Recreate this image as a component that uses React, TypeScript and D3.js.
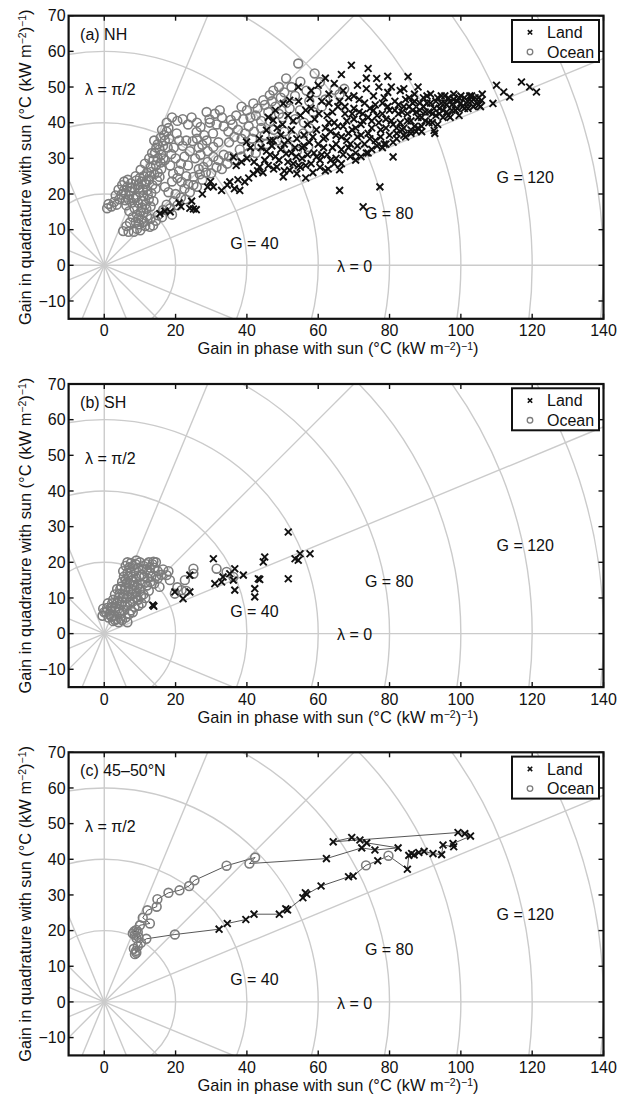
import React from "react";
import * as d3 from "d3";

type Pt = [number, number];

// ---- panel (a) NH ----
const OCEAN_A: Pt[] = [
  [0.8, 16.0], [1.2, 17.2], [2.0, 16.5], [2.8, 17.8], [3.5, 17.0], [4.2, 18.5], [4.8, 19.8], [5.5, 21.0],
  [5.0, 22.5], [6.0, 20.0], [6.5, 22.0], [6.8, 18.5], [7.2, 20.8], [7.5, 23.0], [4.0, 21.2], [3.2, 19.6],
  [5.3, 9.6], [6.8, 9.4], [8.3, 9.4], [9.2, 10.2], [10.1, 9.8], [9.8, 11.5], [8.8, 12.2], [8.0, 13.5],
  [10.5, 12.8], [11.5, 11.0], [12.8, 10.8], [13.7, 11.2], [14.5, 12.5], [12.0, 13.8], [11.0, 14.8],
  [8.5, 16.0], [9.5, 17.5], [10.5, 16.2], [11.5, 17.0], [9.0, 19.0], [10.0, 20.5], [11.0, 19.5], [12.0, 21.0],
  [12.5, 18.5], [13.0, 16.5], [8.5, 21.5], [9.5, 22.5], [10.5, 23.5], [11.5, 22.8], [12.5, 24.0], [13.5, 22.5],
  [14.0, 25.5], [12.0, 26.0], [13.0, 27.5], [14.5, 28.0], [15.0, 30.0], [13.8, 29.5], [16.0, 31.0], [15.5, 32.5],
  [16.5, 33.5], [17.0, 35.0], [16.8, 36.5], [17.5, 37.5], [15.0, 34.0], [14.2, 31.5], [12.8, 25.0], [11.0, 25.0],
  [10.0, 24.5], [16.0, 27.0], [15.0, 26.0], [17.0, 29.5],
  [6.2, 16.8], [7.0, 15.2], [7.8, 17.6], [8.2, 18.8], [9.2, 14.2], [10.2, 15.0], [10.8, 18.0], [11.8, 15.8],
  [12.2, 19.8], [13.2, 20.2], [13.8, 18.0], [14.4, 21.5], [14.8, 23.8], [15.5, 24.8], [15.8, 28.8], [16.6, 30.0],
  [14.6, 33.0], [15.8, 35.8], [16.2, 38.0], [17.8, 33.0], [18.2, 35.5], [13.2, 26.2], [11.8, 23.6], [10.8, 21.2],
  [9.8, 21.8], [9.0, 23.8], [7.8, 21.8], [7.0, 19.6], [6.0, 18.2], [5.6, 23.5], [6.6, 24.0], [8.8, 25.0],
  [10.2, 26.8], [11.4, 28.5], [12.6, 30.0], [13.4, 31.5], [14.0, 35.0], [9.6, 13.2], [7.2, 12.0], [6.2, 11.0],
  [11.2, 12.2], [13.0, 13.0], [16.2, 13.5], [19.0, 14.2], [20.5, 16.8], [22.8, 18.5],
  [15.0, 14.0], [16.5, 15.5], [17.5, 17.0], [18.5, 16.0], [19.5, 18.0], [20.0, 20.0], [21.5, 19.0], [22.5, 21.5],
  [24.0, 20.5], [25.0, 22.5], [26.0, 22.0], [27.5, 24.0], [18.0, 20.5], [17.0, 22.0], [19.0, 23.5], [20.5, 24.5],
  [21.7, 23.4], [23.0, 25.0], [25.0, 24.8], [26.5, 27.0], [27.8, 27.6], [29.0, 29.0], [30.6, 30.4], [32.0, 29.5],
  [33.5, 31.0], [35.0, 30.5], [31.5, 27.5], [23.5, 22.8], [26.8, 25.5], [28.5, 26.0], [30.0, 25.8], [33.0, 27.0],
  [34.5, 28.5], [21.0, 26.5], [22.5, 30.5],
  [18.0, 38.5], [17.5, 40.0], [19.0, 41.5], [20.5, 40.5], [22.0, 41.0], [23.5, 39.5], [24.5, 41.5], [26.0, 40.0],
  [27.0, 38.8], [28.7, 43.0], [29.5, 41.0], [31.0, 42.5], [32.4, 43.5], [33.5, 39.0], [29.6, 40.0], [30.5, 37.0],
  [28.0, 36.5], [25.9, 37.4], [23.0, 35.0], [20.3, 37.0], [22.0, 33.5], [24.0, 32.0], [26.5, 33.0], [28.7, 35.0],
  [30.6, 33.2], [32.0, 34.5], [19.3, 25.7], [18.5, 28.0], [20.0, 30.0], [21.5, 28.5], [23.5, 28.0], [25.5, 30.0],
  [27.0, 31.0], [29.0, 32.0], [24.8, 34.8], [26.0, 35.5], [27.5, 33.8], [19.5, 33.0], [21.0, 35.0], [18.8, 31.2],
  [31.5, 39.5], [33.0, 41.5], [34.8, 37.5], [35.5, 40.8], [37.0, 42.0],
  [35.0, 34.5], [36.5, 36.0], [37.5, 38.0], [38.5, 35.5], [36.0, 39.5], [40.0, 43.5], [41.8, 45.4], [44.6, 46.3],
  [46.4, 47.7], [47.4, 49.0], [51.0, 52.4], [54.4, 56.6], [59.0, 53.8], [60.5, 51.4], [56.7, 49.0], [52.5, 50.0],
  [49.5, 47.0], [42.5, 42.0], [44.0, 40.5], [46.0, 43.0], [48.0, 44.5], [50.0, 41.5], [52.0, 44.0], [54.9, 43.5],
  [58.6, 43.0], [56.0, 40.0], [55.8, 37.0], [57.2, 33.2], [53.0, 36.0], [50.5, 37.5], [47.5, 38.0], [45.0, 36.5],
  [42.0, 37.5], [40.5, 39.0], [39.0, 41.0], [43.5, 33.5], [40.5, 31.5], [38.0, 32.5], [36.5, 29.5], [45.5, 34.0],
  [48.5, 35.0], [51.5, 33.0], [54.0, 32.0], [64.6, 49.2], [66.0, 48.0], [67.3, 49.5], [62.0, 46.5], [61.0, 44.5],
  [38.5, 44.5], [41.0, 41.5], [43.0, 44.0], [45.0, 45.0], [47.0, 46.0], [49.0, 50.0], [50.5, 48.5], [53.5, 47.5],
  [55.0, 51.5], [57.5, 46.0], [59.5, 48.5], [39.5, 37.0], [41.5, 35.5], [44.0, 38.5], [46.5, 40.5], [49.0, 42.5],
  [51.0, 45.5], [53.5, 41.0], [57.5, 38.5], [38.5, 30.5], [42.5, 31.5],
];

const LAND_A: Pt[] = [
  [15.6, 14.5], [17.0, 15.2], [18.5, 15.0], [21.0, 17.5], [21.5, 16.5], [24.0, 16.0], [25.0, 15.8], [25.8, 15.6],
  [24.5, 18.0], [27.5, 20.0], [29.0, 22.0], [29.8, 23.5], [30.6, 22.0], [32.9, 21.0], [34.5, 22.5], [35.2, 23.4],
  [36.5, 21.5], [38.0, 21.0], [37.5, 24.0], [39.4, 23.4], [40.5, 24.5], [41.8, 25.7], [43.0, 26.5], [43.6, 27.6],
  [44.5, 26.0], [36.2, 30.4], [37.0, 28.0], [38.5, 29.0], [40.0, 30.0], [42.0, 29.0], [45.0, 29.5], [46.5, 31.0],
  [46.0, 28.0], [47.5, 27.0], [48.4, 27.6], [49.0, 29.5], [50.2, 24.8], [50.5, 26.5], [51.0, 31.3], [52.0, 26.7],
  [53.0, 28.5], [54.0, 25.7], [55.0, 27.5], [55.5, 30.0], [39.9, 34.6], [41.0, 33.0], [43.5, 35.5], [45.5, 37.9],
  [46.5, 35.0], [47.4, 35.0], [47.4, 40.7], [48.5, 38.5], [49.5, 36.5], [50.2, 45.4], [52.0, 46.3], [54.4, 50.0],
  [57.7, 46.8], [53.0, 40.5], [52.5, 38.0], [54.0, 35.5], [56.0, 33.5], [57.0, 31.0], [58.0, 28.5], [59.5, 30.4],
  [58.5, 26.0], [56.5, 24.5], [53.5, 33.0], [51.5, 35.0], [55.0, 42.0], [57.0, 39.5], [59.0, 41.0], [58.5, 36.0],
  [60.0, 34.0], [44.0, 33.0], [45.5, 32.0], [47.0, 33.5], [48.0, 30.5], [49.5, 32.5], [50.5, 34.0], [51.5, 29.0],
  [52.5, 31.5], [53.8, 30.5], [54.5, 28.0], [55.5, 33.0], [56.0, 36.5], [56.5, 28.0], [57.5, 34.5], [58.0, 44.0],
  [58.8, 31.5], [59.5, 38.0], [46.0, 41.5], [48.0, 43.5], [50.0, 39.5], [51.5, 42.0], [54.5, 46.0], [56.5, 43.5],
  [58.0, 49.0],
  [60.5, 27.5], [61.0, 31.0], [61.5, 35.5], [62.0, 38.5], [62.5, 42.0], [63.0, 45.5], [63.5, 29.5], [64.0, 33.0],
  [64.5, 40.0], [65.0, 36.5], [63.0, 48.0], [65.5, 44.5], [65.0, 30.0], [62.0, 26.5], [60.2, 42.5], [60.5, 29.5],
  [61.0, 46.0], [61.5, 33.0], [62.0, 36.0], [62.5, 31.0], [63.0, 40.0], [63.5, 37.5], [64.0, 43.0], [64.5, 28.5],
  [62.8, 27.0], [60.0, 50.5], [62.0, 52.5], [64.5, 51.0],
  [66.0, 21.0], [66.5, 32.5], [67.0, 39.0], [67.5, 42.5], [68.0, 35.0], [68.5, 47.0], [69.0, 30.5], [69.3, 56.1],
  [69.5, 38.0], [70.0, 44.0], [67.0, 49.0], [66.5, 28.5], [68.5, 33.0], [70.0, 41.0], [65.0, 34.0], [65.5, 39.0],
  [66.0, 46.0], [66.5, 36.0], [67.0, 31.0], [67.5, 44.5], [68.0, 40.5], [68.5, 37.0], [69.0, 34.0], [69.5, 42.5],
  [70.0, 47.5], [66.0, 26.8], [66.5, 53.5],
  [70.5, 31.5], [71.0, 36.0], [71.5, 46.5], [72.0, 39.5], [72.6, 16.4], [72.5, 42.5], [73.0, 34.0], [73.5, 49.5],
  [74.0, 55.2], [74.0, 37.0], [74.5, 44.0], [75.0, 32.5], [75.0, 40.5], [72.0, 30.5], [70.5, 38.5], [71.0, 33.5],
  [71.5, 43.0], [72.0, 36.5], [72.5, 40.5], [73.0, 45.5], [73.5, 31.5], [74.0, 41.5], [74.5, 35.5], [70.5, 29.5],
  [74.0, 31.5], [71.0, 50.5], [73.5, 52.5],
  [75.5, 47.5], [76.0, 35.0], [76.4, 52.4], [76.5, 42.0], [77.3, 22.0], [77.5, 38.0], [78.0, 45.5], [78.5, 34.0],
  [79.0, 41.0], [79.5, 48.5], [80.0, 36.5], [80.0, 43.5], [77.0, 50.0], [79.0, 34.0], [75.0, 38.5], [75.5, 43.5],
  [76.0, 45.0], [76.5, 33.5], [77.0, 40.0], [77.5, 36.0], [78.0, 42.5], [78.5, 47.0], [79.0, 38.5], [79.5, 44.5],
  [78.0, 33.0], [79.5, 53.0],
  [81.0, 30.4], [81.0, 39.5], [81.5, 46.0], [82.0, 35.5], [82.5, 42.5], [83.0, 49.0], [83.5, 38.0], [84.0, 44.5],
  [84.5, 36.0], [85.2, 52.9], [85.0, 40.5], [85.5, 47.0], [82.0, 37.0], [84.0, 36.5], [80.5, 40.5], [81.0, 34.5],
  [81.5, 43.5], [82.0, 38.5], [82.5, 45.0], [83.0, 40.0], [83.5, 43.0], [84.0, 38.5], [84.5, 46.5], [80.5, 50.0],
  [84.0, 49.5],
  [86.0, 38.0], [86.5, 43.5], [87.0, 48.0], [87.5, 37.5], [88.0, 41.5], [88.5, 45.5], [89.0, 39.0], [89.5, 47.0],
  [90.0, 43.0], [87.0, 46.0], [86.0, 37.0], [89.0, 37.5], [85.0, 42.5], [85.5, 44.5], [86.0, 40.5], [86.5, 45.5],
  [87.0, 39.0], [87.5, 43.0], [88.0, 38.5], [88.5, 43.5], [89.0, 41.5], [89.5, 44.5], [88.0, 50.0],
  [90.5, 45.5], [91.0, 40.0], [91.5, 48.0], [92.0, 42.5], [92.7, 37.0], [93.0, 46.0], [93.5, 39.5], [94.0, 44.0],
  [94.5, 47.5], [95.0, 41.5], [92.5, 37.8], [90.0, 40.5], [90.5, 47.5], [91.0, 43.0], [91.5, 45.5], [92.0, 40.0],
  [92.5, 44.0], [93.0, 42.0], [93.5, 47.0], [94.0, 42.5], [94.5, 45.5],
  [95.5, 45.5], [96.0, 43.0], [96.5, 47.0], [97.0, 41.5], [97.5, 45.0], [98.0, 48.0], [98.5, 43.5], [99.0, 46.0],
  [99.5, 42.0], [100.0, 47.5], [95.0, 43.5], [95.5, 47.5], [96.0, 45.0], [96.5, 42.0], [97.0, 46.0], [97.5, 43.5],
  [98.0, 46.5], [99.0, 44.0], [99.5, 47.0],
  [100.5, 44.5], [101.0, 47.0], [101.5, 45.5], [102.0, 44.0], [102.5, 47.5], [103.0, 46.0], [103.5, 44.5],
  [104.0, 47.0], [105.0, 45.0], [105.8, 46.3], [106.0, 48.0], [105.5, 44.5], [100.0, 45.5], [101.0, 44.0],
  [102.0, 46.0], [103.0, 47.5], [104.5, 45.5], [105.0, 47.0],
  [109.0, 45.4], [110.0, 50.5], [112.0, 48.6], [113.7, 47.2], [117.0, 51.4], [119.3, 50.0], [121.2, 48.6],
];

// ---- panel (b) SH ----
const OCEAN_B: Pt[] = [
  [-0.5, 5.0], [-0.3, 7.0], [0.5, 6.0], [1.0, 8.5], [1.5, 5.5], [2.0, 7.5], [2.5, 9.5], [3.0, 6.5], [3.5, 4.0],
  [4.0, 3.2], [4.5, 5.5], [5.0, 3.8], [5.5, 6.5], [6.0, 4.5], [3.0, 11.0], [3.5, 8.5], [4.0, 10.0], [4.5, 12.5],
  [5.0, 9.0], [5.5, 11.0], [6.0, 13.0], [6.5, 8.0], [7.0, 10.5], [7.5, 6.5], [8.0, 9.0], [8.5, 7.5], [5.0, 14.5],
  [5.5, 16.0], [6.0, 15.0], [6.5, 17.0], [7.0, 14.0], [7.5, 12.5], [8.0, 16.0], [8.5, 13.5], [9.0, 11.5],
  [9.5, 9.5], [10.0, 12.5], [7.0, 18.5], [8.0, 19.0], [8.5, 17.5], [9.0, 15.5], [9.5, 18.5], [10.0, 20.0],
  [10.5, 16.5], [11.0, 19.0], [11.5, 14.5], [12.0, 18.0], [12.5, 20.0], [13.0, 17.0], [13.5, 19.5], [14.0, 18.5],
  [14.5, 20.0], [11.0, 11.0], [12.0, 13.5], [13.0, 14.5], [6.5, 20.0], [7.5, 19.8], [9.0, 20.5], [4.0, 7.0],
  [2.0, 4.8], [10.5, 8.5], [11.5, 10.0], [14.5, 16.0], [15.5, 13.1], [17.5, 16.4], [18.4, 15.0], [19.8, 11.2],
  [21.7, 12.2], [22.6, 15.0], [25.0, 18.2], [25.0, 16.8], [31.5, 18.2], [34.3, 17.3], [36.2, 15.9], [16.5, 18.0],
  [15.0, 17.5], [2.5, 3.5], [6.5, 3.2],
  [0.0, 6.0], [0.8, 7.2], [1.2, 4.5], [1.8, 6.5], [2.2, 8.5], [2.8, 5.0], [3.2, 7.5], [3.8, 9.2], [4.2, 6.0],
  [4.8, 8.2], [5.2, 10.2], [5.8, 7.8], [6.2, 9.8], [6.8, 12.0], [7.2, 8.8], [7.8, 11.0], [8.2, 14.5], [8.8, 10.2],
  [9.2, 13.0], [9.8, 16.0], [10.2, 14.0], [10.8, 18.0], [11.2, 16.0], [11.8, 19.5], [12.2, 15.5], [12.8, 18.5],
  [13.2, 16.0], [13.8, 20.2], [5.8, 12.2], [6.3, 14.2], [6.8, 16.0], [7.3, 17.2], [7.8, 15.0], [8.3, 12.0],
  [4.3, 11.2], [4.8, 13.2], [3.6, 12.5], [5.3, 17.5], [6.0, 19.0], [8.8, 19.5], [10.3, 10.5], [9.6, 7.8],
  [3.0, 3.8], [4.6, 4.2], [7.0, 5.5], [8.0, 6.0], [12.5, 12.0], [14.0, 14.0], [15.0, 15.5], [16.0, 16.5],
  [18.0, 17.5], [23.0, 12.0], [20.5, 13.0],
];

const LAND_B: Pt[] = [
  [13.6, 8.0], [13.9, 7.7], [19.8, 11.7], [22.1, 9.8], [24.0, 11.7], [24.0, 16.4], [30.6, 21.0], [31.0, 14.0],
  [32.9, 14.5], [33.3, 15.9], [35.2, 16.8], [36.6, 18.2], [36.2, 15.0], [36.6, 12.2], [39.0, 16.4], [42.2, 10.3],
  [42.2, 12.6], [43.2, 15.4], [43.6, 15.2], [44.6, 20.1], [45.0, 21.5], [51.6, 28.5], [51.6, 15.4], [53.5, 21.0],
  [54.4, 20.6], [54.9, 22.4], [57.7, 22.4],
];

// ---- panel (c) 45-50N: ordered track, L = land, O = ocean ----
const TRACK_C: [number, number, "L" | "O"][] = [
  [8.6, 13.4, "O"], [8.9, 14.3, "O"], [8.3, 14.9, "O"], [9.4, 15.6, "O"], [9.0, 13.8, "O"], [10.3, 16.6, "O"],
  [11.8, 17.7, "O"], [19.8, 18.9, "O"],
  [32.2, 20.4, "L"], [34.5, 22.0, "L"], [39.7, 23.1, "L"], [42.0, 24.6, "L"], [49.1, 24.6, "L"], [50.9, 26.1, "L"],
  [51.4, 25.8, "L"], [55.7, 29.2, "L"], [56.4, 30.6, "L"], [56.8, 30.2, "L"], [60.8, 32.5, "L"], [68.5, 35.1, "L"],
  [69.8, 35.3, "L"], [73.4, 38.3, "O"], [76.7, 39.6, "L"], [79.7, 41.0, "O"],
  [85.0, 37.2, "L"], [85.4, 41.1, "L"], [86.2, 41.6, "L"], [86.9, 41.2, "L"], [88.2, 41.9, "L"], [89.7, 42.2, "L"],
  [92.2, 41.6, "L"], [94.6, 41.3, "L"], [95.0, 44.0, "L"], [98.0, 43.5, "L"], [97.8, 44.4, "L"], [102.7, 46.5, "L"],
  [101.1, 47.2, "L"], [99.2, 47.5, "L"],
  [64.2, 44.9, "L"], [69.4, 46.1, "L"], [71.7, 45.4, "L"], [73.6, 44.6, "L"], [82.4, 43.2, "L"], [75.9, 42.6, "L"],
  [72.2, 43.2, "L"], [62.3, 40.2, "L"],
  [40.7, 38.8, "O"], [42.3, 40.5, "O"], [34.3, 38.2, "O"], [25.3, 34.1, "O"], [23.8, 32.5, "O"], [21.1, 31.3, "O"],
  [18.0, 30.6, "O"], [14.9, 28.8, "O"], [14.7, 26.7, "O"], [12.1, 25.7, "O"], [10.8, 23.6, "O"], [12.8, 22.0, "O"],
  [10.0, 21.5, "O"], [9.0, 20.2, "O"], [8.0, 19.2, "O"], [8.6, 18.8, "O"], [9.4, 19.6, "O"], [8.4, 19.8, "O"],
  [9.6, 18.2, "O"], [9.0, 17.9, "O"],
];

const PANEL_LABELS = ["(a) NH", "(b) SH", "(c) 45\u201350\u00b0N"];
const X_TICKS = [0, 20, 40, 60, 80, 100, 120, 140];
const Y_TICKS = [-10, 0, 10, 20, 30, 40, 50, 60, 70];
const G_RINGS = [20, 40, 60, 80, 100, 120, 140, 160];
const SPOKES = d3.range(16).map((i) => (i * Math.PI) / 8);

const K = 3.566;
const LEFT = 68.6;
const PW = 150 * K;
const PH = 85 * K;
const TOPS = [15.7, 384, 752.3];
const FONT = "'Liberation Sans', Arial, Helvetica, sans-serif";
const GRID = "#cbcbcb";
const OCEAN_C = "#7d7d7d";

const Cross = ({ x, y, s = 3.4, w = 1.9 }: { x: number; y: number; s?: number; w?: number }) => (
  <path d={`M${x - s},${y - s}L${x + s},${y + s}M${x - s},${y + s}L${x + s},${y - s}`} stroke="#111" strokeWidth={w} fill="none" />
);

const Unit = () => (
  <>
    (°C (kW m<tspan dy="-4.5" fontSize="10.5">−2</tspan>
    <tspan dy="4.5">)</tspan>
    <tspan dy="-4.5" fontSize="10.5">−1</tspan>
    <tspan dy="4.5">)</tspan>
  </>
);

function Panel({ idx, land, ocean, track }: { idx: number; land: Pt[]; ocean: Pt[]; track?: [number, number, string][] }) {
  const top = TOPS[idx];
  const x = d3.scaleLinear().domain([-10, 140]).range([LEFT, LEFT + PW]);
  const y = d3.scaleLinear().domain([-15, 70]).range([top + PH, top]);
  const cx = x(0);
  const cy = y(0);
  const clipId = `clip${idx}`;
  const line = d3.line<[number, number, string]>().x((d) => x(d[0])).y((d) => y(d[1]));
  const oc = track ? track.filter((d) => d[2] === "O") : ocean;
  const ld = track ? track.filter((d) => d[2] === "L") : land;
  const tick = 5;
  return (
    <g fontFamily={FONT}>
      <defs>
        <clipPath id={clipId}>
          <rect x={LEFT} y={top} width={PW} height={PH} />
        </clipPath>
      </defs>
      <g clipPath={`url(#${clipId})`}>
        {G_RINGS.map((r) => (
          <circle key={r} cx={cx} cy={cy} r={x(r) - x(0)} fill="none" stroke={GRID} strokeWidth={1.4} />
        ))}
        {SPOKES.map((a, i) => (
          <line key={i} x1={cx} y1={cy} x2={x(200 * Math.cos(a))} y2={y(200 * Math.sin(a))} stroke={GRID} strokeWidth={1.4} />
        ))}
        <g fontSize="16" fill="#111">
          <text x={x(-5.4)} y={y(47.7)}>λ = π/2</text>
          <text x={x(65.3)} y={y(-1.9)}>λ = 0</text>
          <text x={x(35.3)} y={y(4.7)}>G = 40</text>
          <text x={x(73.1)} y={y(13.1)}>G = 80</text>
          <text x={x(110)} y={y(23.1)}>G = 120</text>
        </g>
        {track && <path d={line(track as [number, number, string][]) || ""} fill="none" stroke="#444" strokeWidth={0.9} />}
        {oc.map((d, i) => (
          <circle key={"o" + i} cx={x(d[0])} cy={y(d[1])} r={4.4} fill="none" stroke={OCEAN_C} strokeWidth={1.6} />
        ))}
        {ld.map((d, i) => (
          <Cross key={"l" + i} x={x(d[0])} y={y(d[1])} />
        ))}
      </g>
      <g stroke="#111" strokeWidth={1.4}>
        {X_TICKS.map((t) => (
          <g key={t}>
            <line x1={x(t)} x2={x(t)} y1={top + PH} y2={top + PH - tick} />
            <line x1={x(t)} x2={x(t)} y1={top} y2={top + tick} />
          </g>
        ))}
        {Y_TICKS.map((t) => (
          <g key={t}>
            <line x1={LEFT} x2={LEFT + tick} y1={y(t)} y2={y(t)} />
            <line x1={LEFT + PW} x2={LEFT + PW - tick} y1={y(t)} y2={y(t)} />
          </g>
        ))}
      </g>
      <rect x={LEFT} y={top} width={PW} height={PH} fill="none" stroke="#111" strokeWidth={2.2} />
      <g fontSize="16" fill="#111">
        {X_TICKS.map((t) => (
          <text key={t} x={x(t)} y={top + PH + 17.5} textAnchor="middle">{t}</text>
        ))}
        {Y_TICKS.map((t) => (
          <text key={t} x={LEFT - 3} y={y(t)} dy="0.36em" textAnchor="end">{t < 0 ? "\u2212" + Math.abs(t) : t}</text>
        ))}
        <text x={LEFT + 11.5} y={top + 24}>{PANEL_LABELS[idx]}</text>
      </g>
      <text x={(LEFT + LEFT + PW) / 2 + 2} y={top + PH + 35.5} textAnchor="middle" fontSize="16.4" fill="#111">
        Gain in phase with sun <Unit />
      </text>
      <text transform={`translate(30.5,${top + PH / 2}) rotate(-90)`} textAnchor="middle" fontSize="16.4" fill="#111">
        Gain in quadrature with sun <Unit />
      </text>
      <g>
        <rect x={512} y={top + 4.3} width={87} height={42} fill="#fff" stroke="#111" strokeWidth={2} />
        <Cross x={530} y={top + 16.6} s={2.2} w={1.6} />
        <circle cx={530} cy={top + 36.3} r={2.8} fill="none" stroke={OCEAN_C} strokeWidth={1.3} />
        <text x={547} y={top + 22.3} fontSize="16" fill="#111">Land</text>
        <text x={547} y={top + 42} fontSize="16" fill="#111">Ocean</text>
      </g>
    </g>
  );
}

export default function App() {
  return (
    <div style={{ position: "absolute", left: 0, top: 0 }}>
      <svg width={627} height={1099} style={{ display: "block", background: "#fff" }}>
        <Panel idx={0} land={LAND_A} ocean={OCEAN_A} />
        <Panel idx={1} land={LAND_B} ocean={OCEAN_B} />
        <Panel idx={2} land={[]} ocean={[]} track={TRACK_C} />
      </svg>
    </div>
  );
}
